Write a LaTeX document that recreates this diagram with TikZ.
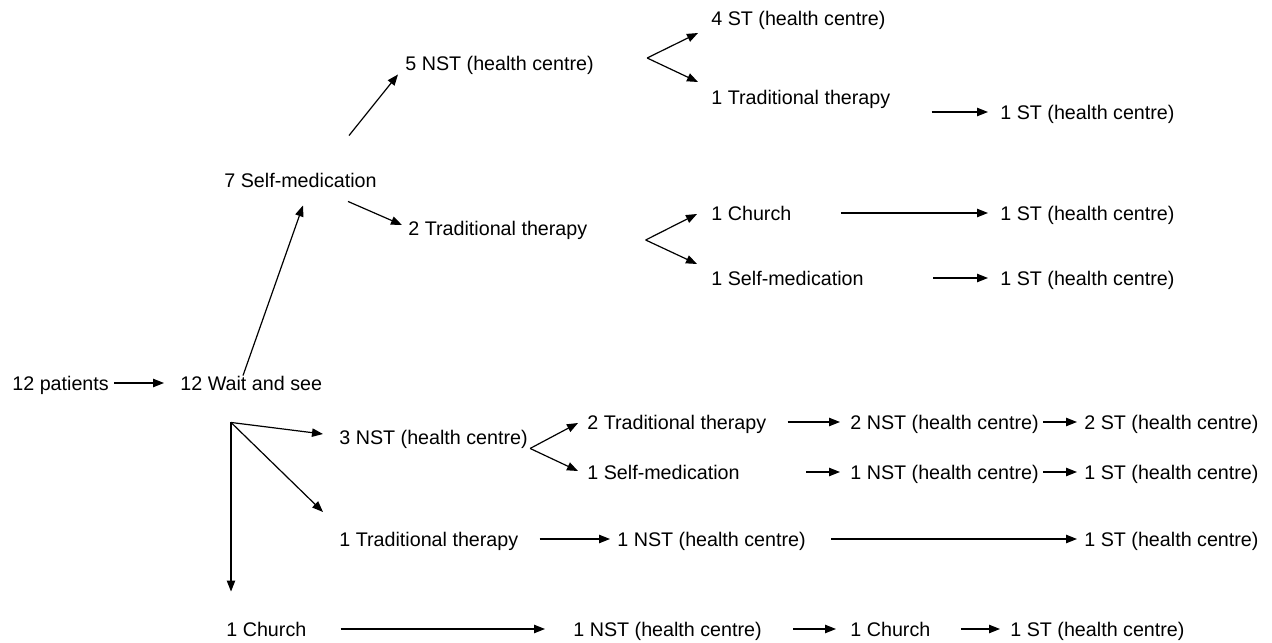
\documentclass[tikz,border=0pt]{standalone}
\usepackage{fontspec}
\setmainfont{Liberation Sans}
\usepackage{tikz}
\usetikzlibrary{arrows.meta,calc}

\begin{document}
\begin{tikzpicture}[x=0.5pt,y=-0.5pt,>={Triangle[length=5.5pt,width=4.2pt]},
  lbl/.style={anchor=west,inner sep=0pt,text height=7.05pt,text depth=0pt,font=\fontsize{9.85}{12}\selectfont},
  arr/.style={->,line width=0.6pt}]
  \useasboundingbox (0,0) rectangle (1272,642);
  % labels
  \node[lbl] (p) at (12,383) {12 patients};
  \node[lbl] (w) at (180,383) {12 Wait and see};
  \node[lbl] (sm7) at (224,180) {7 Self-medication};
  \node[lbl] (nst5) at (405,63) {5 NST (health centre)};
  \node[lbl] (tt2) at (408,228) {2 Traditional therapy};
  \node[lbl] (st4) at (711,18) {4 ST (health centre)};
  \node[lbl] (tt1a) at (711,97) {1 Traditional therapy};
  \node[lbl] (st1a) at (1000,112) {1 ST (health centre)};
  \node[lbl] (ch1) at (711,213) {1 Church};
  \node[lbl] (smd1) at (711,278) {1 Self-medication};
  \node[lbl] (st1b) at (1000,213) {1 ST (health centre)};
  \node[lbl] (st1c) at (1000,278) {1 ST (health centre)};
  \node[lbl] (nst3) at (339,437) {3 NST (health centre)};
  \node[lbl] (tt2b) at (587,422) {2 Traditional therapy};
  \node[lbl] (smd1b) at (587,472) {1 Self-medication};
  \node[lbl] (nst2) at (850,422) {2 NST (health centre)};
  \node[lbl] (nst1b) at (850,472) {1 NST (health centre)};
  \node[lbl] (st2) at (1084,422) {2 ST (health centre)};
  \node[lbl] (st1d) at (1084,472) {1 ST (health centre)};
  \node[lbl] (tt1c) at (339,539) {1 Traditional therapy};
  \node[lbl] (nst1c) at (617,539) {1 NST (health centre)};
  \node[lbl] (st1e) at (1084,539) {1 ST (health centre)};
  \node[lbl] (ch1b) at (226,629) {1 Church};
  \node[lbl] (nst1d) at (573,629) {1 NST (health centre)};
  \node[lbl] (ch1c) at (850,629) {1 Church};
  \node[lbl] (st1f) at (1010,629) {1 ST (health centre)};
  % branching points
  \coordinate (f1) at ($(nst5.east)+(53,-5)$);
  \coordinate (f2) at ($(tt2.east)+(58,12)$);
  \coordinate (v) at ($(w.south west)+(51,32)$);
  \coordinate (f3) at ($(nst3.south east)+(2,4)$);
  % upper branch
  \draw[arr] ($(p.east)+(5,0)$) -- ($(w.west)+(-16,0)$);
  \draw[arr] ($(w.north west)+(63,0)$) -- ($(sm7.south west)+(79,18)$);
  \draw[arr] ($(sm7.north west)+(125,-37)$) -- ($(nst5.south west)+(-7,4)$);
  \draw[arr] ($(sm7.south west)+(124,14)$) -- ($(tt2.west)+(-6,-3)$);
  \draw[arr] (f1) -- ($(st4.west)+(-13,15)$);
  \draw[arr] (f1) -- ($(tt1a.west)+(-13,-15)$);
  \draw[arr] ($(tt1a.east)+(41,15)$) -- ($(st1a.west)+(-12,0)$);
  \draw[arr] (f2) -- ($(ch1.west)+(-14,1)$);
  \draw[arr] (f2) -- ($(smd1.west)+(-14,-14)$);
  \draw[arr] ($(ch1.east)+(49,0)$) -- ($(st1b.west)+(-12,0)$);
  \draw[arr] ($(smd1.east)+(69,0)$) -- ($(st1c.west)+(-12,0)$);
  % lower branch
  \draw[arr] (v) -- ($(nst3.west)+(-16,-3)$);
  \draw[arr] (v) -- ($(tt1c.west)+(-16,-27)$);
  \draw[arr] (v) -- ($(ch1b.north west)+(5,-30)$);
  \draw[arr] (f3) -- ($(tt2b.west)+(-9,1)$);
  \draw[arr] (f3) -- ($(smd1b.west)+(-9,-1)$);
  \draw[arr] ($(tt2b.east)+(21,0)$) -- ($(nst2.west)+(-10,0)$);
  \draw[arr] ($(nst2.east)+(4,0)$) -- ($(st2.west)+(-7,0)$);
  \draw[arr] ($(smd1b.east)+(66,0)$) -- ($(nst1b.west)+(-10,0)$);
  \draw[arr] ($(nst1b.east)+(4,0)$) -- ($(st1d.west)+(-7,0)$);
  \draw[arr] ($(tt1c.east)+(21,0)$) -- ($(nst1c.west)+(-7,0)$);
  \draw[arr] ($(nst1c.east)+(25,0)$) -- ($(st1e.west)+(-7,0)$);
  \draw[arr] ($(ch1b.east)+(34,0)$) -- ($(nst1d.west)+(-28,0)$);
  \draw[arr] ($(nst1d.east)+(31,0)$) -- ($(ch1c.west)+(-14,0)$);
  \draw[arr] ($(ch1c.east)+(30,0)$) -- ($(st1f.west)+(-10,0)$);
\end{tikzpicture}
\end{document}
